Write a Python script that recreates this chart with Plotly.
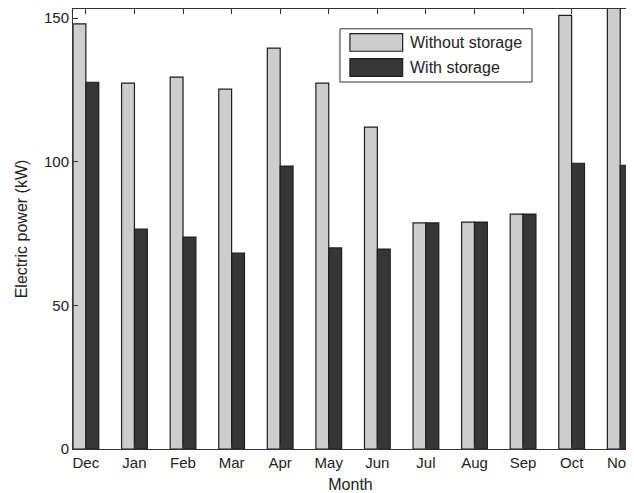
import plotly.graph_objects as go

months = ["Dec", "Jan", "Feb", "Mar", "Apr", "May", "Jun", "Jul", "Aug", "Sep", "Oct", "Nov"]
without_storage = [148.0, 127.4, 129.5, 125.3, 139.6, 127.4, 112.1, 78.7, 79.0, 81.8, 151.0, 160.0]
with_storage = [127.7, 76.6, 73.8, 68.2, 98.5, 70.0, 69.6, 78.7, 79.0, 81.8, 99.5, 98.8]
y_ticks = [0, 50, 100, 150]

LIGHT = "#cdcdcd"
DARK = "#363636"
EDGE = "#1e1e1e"
FONT = "Liberation Sans, Arial, sans-serif"

fig = go.Figure()
fig.add_trace(go.Bar(x=months, y=without_storage, name="Without storage",
                     marker=dict(color=LIGHT, line=dict(color=EDGE, width=1.2)),
                     showlegend=False))
fig.add_trace(go.Bar(x=months, y=with_storage, name="With storage",
                     marker=dict(color=DARK, line=dict(color=EDGE, width=1.2)),
                     showlegend=False))

# page body has an 8px margin, so the figure is sized to end at the window edge
fig.update_layout(
    width=626, height=485,
    margin=dict(l=65, r=0, t=1, b=44),
    paper_bgcolor="white", plot_bgcolor="white",
    barmode="group", bargap=0.47, bargroupgap=0.0,
    font=dict(family=FONT, size=15, color="#222"),
)
fig.update_xaxes(
    range=[-0.265, 11.16], showline=True, linecolor="#333", linewidth=1,
    mirror="ticks", ticks="inside", ticklen=5, tickcolor="#333",
    showgrid=False, zeroline=False,
    title=dict(text="Month", standoff=8, font=dict(size=16)),
    tickfont=dict(size=15),
)
fig.update_yaxes(
    range=[0, 153.2], tickvals=y_ticks, showline=True, linecolor="#333", linewidth=1,
    mirror=False, ticks="inside", ticklen=5, tickcolor="#333",
    showgrid=False, zeroline=False,
    title=dict(text="Electric power (kW)", standoff=12, font=dict(size=16)),
    tickfont=dict(size=15),
)

# legend box drawn manually to match the reference style
lx0, lx1, ly0, ly1 = 0.481, 0.827, 0.834, 0.955
fig.add_shape(type="rect", xref="paper", yref="paper", x0=lx0, x1=lx1, y0=ly0, y1=ly1,
              line=dict(color="#333", width=1), fillcolor="white", layer="above")
entries = [("Without storage", LIGHT), ("With storage", DARK)]
for i, (label, col) in enumerate(entries):
    yc = 0.924 - i * 0.057
    fig.add_shape(type="rect", xref="paper", yref="paper",
                  x0=0.499, x1=0.594, y0=yc - 0.020, y1=yc + 0.020,
                  line=dict(color=EDGE, width=1.2), fillcolor=col, layer="above")
    fig.add_annotation(xref="paper", yref="paper", x=0.603, y=yc, text=label,
                       showarrow=False, xanchor="left", yanchor="middle",
                       font=dict(size=16, color="#222", family=FONT))

fig.write_html("out.html")
